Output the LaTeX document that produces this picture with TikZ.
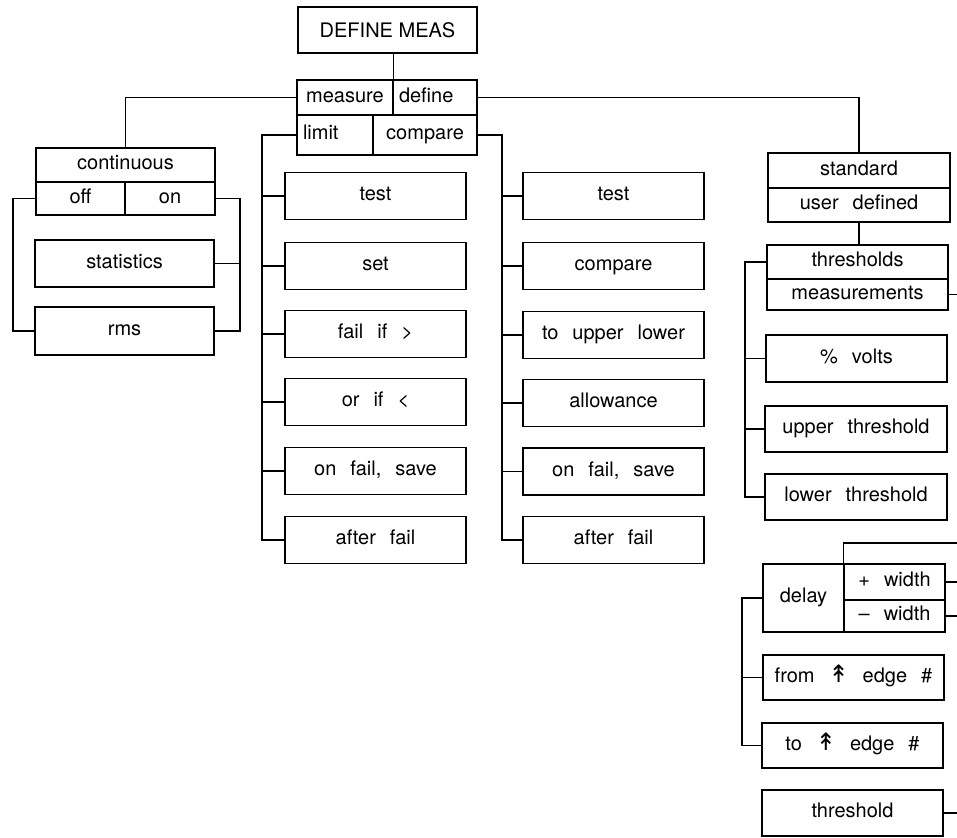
\documentclass[tikz,border=0pt]{standalone}
\usepackage{fontspec}
\setmainfont{TeX Gyre Heros}
\newfontfamily\arrowfont{DejaVu Sans}
\usepackage{tikz}
\usetikzlibrary{calc}

\newcommand{\menufont}{\fontsize{10}{12}\selectfont\spaceskip=0.7em plus 0.1em\relax}
\newcommand{\riseedge}{{\arrowfont\fontsize{12}{12}\selectfont ↟}}

\tikzset{
  cell/.style={draw, line width=0.6pt, inner sep=0pt, font=\menufont,
               text height=6.5pt, text depth=2pt},
  menubox/.style={cell, minimum width=90.5pt, minimum height=23.5pt},
  leftcell/.style={cell, align=left, inner xsep=3pt},
  wire/.style={line width=0.6pt},
}

\begin{document}
\begin{tikzpicture}[x=0.5pt, y=-0.5pt]
  \useasboundingbox (0,0) rectangle (957,837);

  % top of the menu
  \node[cell, minimum width=89.5pt, minimum height=23pt, text height=7.2pt, text depth=0pt,
        font=\fontsize{10}{12}\selectfont] (dm) at (387.5,30) {DEFINE MEAS};
  \node[cell, minimum width=48pt, minimum height=17.5pt] (measure) at (345,97.5) {measure};
  \node[leftcell, text width=36pt, minimum height=17.5pt] (define) at (435,97.5) {define};
  \node[leftcell, text width=32pt, minimum height=20pt] (limit) at (335,135) {limit};
  \node[cell, minimum width=52pt, minimum height=20pt] (compare) at (425,135) {compare};

  % measure: continuous
  \node[cell, minimum width=89.5pt, minimum height=17pt] (cont) at (125.5,165) {continuous};
  \node[cell, minimum width=44.5pt, minimum height=16.5pt] (off) at (80.5,198.5) {off};
  \node[cell, minimum width=45pt, minimum height=16.5pt] (on) at (170,198.5) {on};
  \node[menubox, minimum width=89.5pt] (stats) at (124.5,263.5) {statistics};
  \node[menubox, minimum width=89.5pt, minimum height=24pt] (rms) at (124.5,331) {rms};

  % limit column
  \node[menubox] (ltest) at (375.5,196) {test};
  \node[menubox] (lset)  at (375.5,266) {set};
  \node[menubox] (lfail) at (375.5,334) {fail if >};
  \node[menubox] (lorif) at (375.5,402) {or if <};
  \node[menubox] (lsave) at (375.5,471) {on fail, save};
  \node[menubox] (lafter) at (375.5,540) {after fail};

  % compare column
  \node[menubox] (ctest)  at (613.5,196) {test};
  \node[menubox] (ccomp)  at (613.5,266) {compare};
  \node[menubox] (cupper) at (613.5,335) {to upper lower};
  \node[menubox] (callow) at (613.5,403) {allowance};
  \node[menubox] (csave)  at (613.5,471.5) {on fail, save};
  \node[menubox] (cafter) at (613.5,540) {after fail};

  % define column
  \node[cell, minimum width=91pt, minimum height=17.5pt] (std) at (859,170.5) {standard};
  \node[cell, minimum width=91pt, minimum height=17pt] (user) at (859,205) {user defined};
  \node[cell, minimum width=90.5pt, minimum height=17pt] (thr) at (857.5,262) {thresholds};
  \node[cell, minimum width=90.5pt, minimum height=15.5pt] (meas) at (857.5,294.5) {measurements};
  \node[menubox] (volts) at (856.5,358.5) {\% volts};
  \node[menubox, minimum width=91pt, minimum height=23pt] (upthr) at (856,429) {upper threshold};
  \node[menubox, minimum width=91pt, minimum height=23pt] (lowthr) at (856,497) {lower threshold};
  \node[cell, minimum width=40.5pt, minimum height=34pt] (delay) at (803.5,598) {delay};
  \node[cell, minimum width=50.5pt, minimum height=18pt] (pwid) at (894.5,582) {+ width};
  \node[cell, minimum width=50.5pt, minimum height=16pt] (mwid) at (894.5,616) {– width};
  \node[menubox, minimum height=22.5pt] (fromedge) at (853.5,677.5) {from \riseedge\ edge \#};
  \node[menubox, minimum height=22.5pt] (toedge) at (852.5,745.5) {to \riseedge\ edge \#};
  \node[menubox, minimum height=23pt] (thrsh) at (852.5,813) {threshold};

  % bus lines
  \coordinate (offbus) at (13,0);
  \coordinate (onbus) at (240,0);
  \coordinate (limbus) at (262,0);
  \coordinate (cmpbus) at (502,0);
  \coordinate (thrbus) at (745,0);
  \coordinate (delbus) at (742,0);
  \coordinate (rim) at (957,0);
  \coordinate (dtop) at (957,543);

  \draw[wire] (measure.north east |- dm.south) -- (measure.north east);
  \draw[wire] (measure.west) -| (cont.north);
  \draw[wire] (define.east) -| (std.north);

  \draw[wire] (off.west) -| (offbus |- rms.west) -- (rms.west);
  \draw[wire] (on.east) -| (onbus |- rms.east) -- (rms.east);
  \draw[wire] (onbus |- stats.east) -- (stats.east);

  \draw[wire] (limit.west) -| (limbus |- lafter.west) -- (lafter.west);
  \foreach \n in {ltest,lset,lfail,lorif,lsave}
    \draw[wire] (limbus |- \n.west) -- (\n.west);

  \draw[wire] (compare.east) -| (cmpbus |- cafter.west) -- (cafter.west);
  \foreach \n in {ctest,ccomp,cupper,callow,csave}
    \draw[wire] (cmpbus |- \n.west) -- (\n.west);

  \draw[wire] (user.south) -- (user.south |- thr.north);
  \draw[wire] (thr.west) -| (thrbus |- lowthr.west) -- (lowthr.west);
  \foreach \n in {volts,upthr}
    \draw[wire] (thrbus |- \n.west) -- (\n.west);
  \draw[wire] (meas.east) -- (meas.east -| rim);

  \draw[wire] (pwid.north west) |- (dtop);
  \foreach \n in {pwid,mwid,thrsh}
    \draw[wire] (\n.east) -- (\n.east -| rim);
  \draw[wire] (delay.west) -| (delbus |- toedge.west) -- (toedge.west);
  \draw[wire] (delbus |- fromedge.west) -- (fromedge.west);
\end{tikzpicture}
\end{document}
